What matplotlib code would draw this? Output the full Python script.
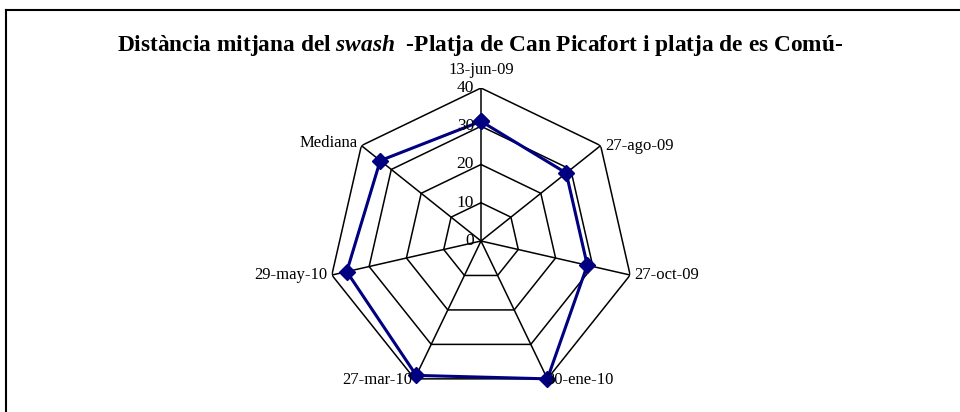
import numpy as np
import matplotlib
matplotlib.use("Agg")
from matplotlib import pyplot as plt
from matplotlib.lines import Line2D

categories = ["13-jun-09", "27-ago-09", "27-oct-09", "30-ene-10",
              "27-mar-10", "29-may-10", "Mediana"]
values = [31.3, 28.5, 28.5, 40.0, 39.0, 36.0, 33.7]
rings = [0, 10, 20, 30, 40]

plt.rcParams["font.family"] = ["Liberation Serif", "DejaVu Serif"]
plt.rcParams["mathtext.fontset"] = "custom"
plt.rcParams["mathtext.rm"] = "Liberation Serif:bold"
plt.rcParams["mathtext.it"] = "Liberation Serif:italic:bold"

fig = plt.figure(figsize=(9.6, 4.12), dpi=100)
fig.patch.set_facecolor("white")

# outer frame (only top and left visible in the crop)
fig.add_artist(Line2D([6 / 960, 6 / 960], [0, 1 - 10 / 412], color="black", lw=1.5))
fig.add_artist(Line2D([6 / 960, 1], [1 - 10 / 412, 1 - 10 / 412], color="black", lw=1.5))

ax = fig.add_axes([328 / 960, 18 / 412, 306 / 960, 306 / 412], projection="polar")
ax.set_theta_zero_location("N")
ax.set_theta_direction(-1)
ax.set_ylim(0, 40)
ax.grid(False)
ax.spines["polar"].set_visible(False)
ax.set_xticks([])
ax.set_yticks([])
ax.patch.set_visible(False)

n = len(categories)
theta = np.arange(n) * 2 * np.pi / n
theta_c = np.append(theta, theta[0])

# polygon grid
for r in rings[1:]:
    ax.plot(theta_c, [r] * (n + 1), color="black", lw=1.1, zorder=1)
for t in theta:
    ax.plot([t, t], [0, rings[-1]], color="black", lw=1.1, zorder=1)

# series
vals_c = values + values[:1]
ax.plot(theta_c, vals_c, color="#000080", lw=2.2, marker="D", ms=8,
        zorder=3, clip_on=False)

# ring value labels along top spoke
for r in rings:
    ax.annotate(str(r), xy=(0, r), xytext=(-5, 0), textcoords="offset points",
                ha="right", va="center", fontsize=12.5, annotation_clip=False)

# category labels
label_pos = {
    "13-jun-09": ("center", "bottom", (0, 7)),
    "27-ago-09": ("left", "center", (3, 0)),
    "27-oct-09": ("left", "center", (3, 0)),
    "30-ene-10": ("left", "center", (-1, -1)),
    "27-mar-10": ("right", "center", (-2, -1)),
    "29-may-10": ("right", "center", (-3, 0)),
    "Mediana": ("right", "center", (-3, 2)),
}
for t, c in zip(theta, categories):
    ha, va, off = label_pos[c]
    ax.annotate(c, xy=(t, rings[-1]), xytext=off, textcoords="offset points",
                ha=ha, va=va, fontsize=12, annotation_clip=False)

fig.text(0.5, 1 - 46 / 412,
         "Distància mitjana del $\\it{swash}$  -Platja de Can Picafort i platja de es Comú-",
         ha="center", va="center", fontsize=16.8, fontweight="bold")

fig.savefig("out.png", dpi=100)
